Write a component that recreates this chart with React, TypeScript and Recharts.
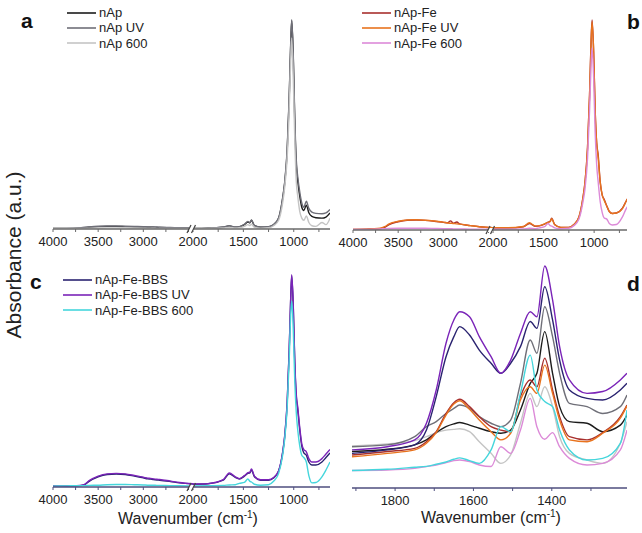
import React from "react";
import { Line, LineChart, XAxis, YAxis } from "recharts";

const FONT = "'Liberation Sans', Arial, Helvetica, sans-serif";

// wavenumber grids (cm-1)
const wnHigh = [4000, 3850, 3700, 3650, 3600, 3500, 3400, 3300, 3200, 3100, 3000, 2950, 2920, 2890, 2850, 2820, 2700, 2600, 2450];
const wnLow = [2000, 1850, 1700, 1640, 1580, 1540, 1490, 1455, 1435, 1420, 1390, 1330, 1250, 1200, 1150, 1110, 1090, 1065, 1045, 1030, 1020, 1005, 990, 975, 960, 940, 920, 900, 875, 850, 820, 780, 720, 680, 640];
const wnZoom = [1910, 1820, 1750, 1720, 1695, 1670, 1650, 1635, 1610, 1585, 1555, 1530, 1505, 1480, 1455, 1438, 1418, 1398, 1380, 1355, 1310, 1270, 1225, 1208];

// tick values
const highTicks = [4000, 3750, 3500, 3250, 3000, 2750, 2500];
const highLabels = [4000, 3500, 3000];
const lowTicks = [2000, 1750, 1500, 1250, 1000, 750];
const lowLabels = [2000, 1500, 1000];
const zoomTicks = [1900, 1800, 1700, 1600, 1500, 1400, 1300];
const zoomLabels = [1800, 1600, 1400];

// absorbance (a.u.), panel a
const nApHigh = [0.003, 0.003, 0.004, 0.006, 0.008, 0.011, 0.012, 0.012, 0.011, 0.01, 0.009, 0.008, 0.008, 0.008, 0.007, 0.007, 0.006, 0.005, 0.004];
const nApUvHigh = [0.003, 0.003, 0.005, 0.008, 0.01, 0.013, 0.014, 0.014, 0.013, 0.012, 0.011, 0.01, 0.01, 0.009, 0.009, 0.008, 0.007, 0.006, 0.005];
const nAp600High = [0.002, 0.002, 0.003, 0.003, 0.004, 0.004, 0.005, 0.005, 0.005, 0.004, 0.004, 0.004, 0.004, 0.004, 0.003, 0.003, 0.003, 0.003, 0.003];
const nApLow = [0.003, 0.004, 0.008, 0.014, 0.008, 0.01, 0.02, 0.032, 0.028, 0.04, 0.015, 0.008, 0.01, 0.02, 0.05, 0.14, 0.21, 0.36, 0.6, 0.85, 0.96, 0.8, 0.5, 0.3, 0.22, 0.15, 0.1, 0.085, 0.11, 0.075, 0.058, 0.052, 0.05, 0.055, 0.074];
const nApUvLow = [0.003, 0.004, 0.009, 0.015, 0.009, 0.011, 0.022, 0.035, 0.03, 0.042, 0.016, 0.009, 0.011, 0.021, 0.052, 0.145, 0.215, 0.37, 0.61, 0.86, 0.965, 0.81, 0.52, 0.32, 0.24, 0.17, 0.12, 0.1, 0.128, 0.095, 0.078, 0.072, 0.07, 0.074, 0.09];
const nAp600Low = [0.002, 0.003, 0.005, 0.008, 0.005, 0.006, 0.012, 0.02, 0.016, 0.022, 0.008, 0.004, 0.006, 0.015, 0.04, 0.12, 0.19, 0.33, 0.55, 0.78, 0.88, 0.7, 0.42, 0.22, 0.15, 0.08, 0.05, 0.04, 0.06, 0.03, 0.015, 0.012, 0.03, 0.02, 0.05];

// panel b
const feHigh = [0.003, 0.004, 0.006, 0.012, 0.025, 0.038, 0.045, 0.046, 0.044, 0.04, 0.035, 0.033, 0.042, 0.031, 0.037, 0.028, 0.02, 0.015, 0.011];
const feUvHigh = [0.003, 0.004, 0.008, 0.015, 0.028, 0.04, 0.046, 0.047, 0.045, 0.041, 0.036, 0.032, 0.031, 0.03, 0.028, 0.027, 0.02, 0.015, 0.011];
const fe600High = [0.002, 0.003, 0.005, 0.006, 0.007, 0.008, 0.008, 0.008, 0.008, 0.007, 0.006, 0.006, 0.006, 0.005, 0.005, 0.005, 0.004, 0.004, 0.004];
const feLow = [0.009, 0.009, 0.015, 0.03, 0.017, 0.019, 0.027, 0.036, 0.04, 0.054, 0.025, 0.012, 0.012, 0.025, 0.06, 0.15, 0.22, 0.38, 0.62, 0.87, 0.963, 0.82, 0.55, 0.4, 0.345, 0.22, 0.16, 0.14, 0.11, 0.085, 0.076, 0.078, 0.1, 0.135, 0.16];
const feUvLow = [0.01, 0.01, 0.016, 0.033, 0.018, 0.02, 0.028, 0.035, 0.038, 0.052, 0.024, 0.012, 0.012, 0.025, 0.06, 0.15, 0.22, 0.38, 0.62, 0.86, 0.955, 0.82, 0.55, 0.4, 0.33, 0.22, 0.16, 0.135, 0.11, 0.085, 0.076, 0.078, 0.098, 0.135, 0.16];
const fe600Low = [0.004, 0.004, 0.005, 0.008, 0.006, 0.01, 0.015, 0.03, 0.02, 0.018, 0.01, 0.006, 0.008, 0.02, 0.05, 0.13, 0.19, 0.33, 0.55, 0.76, 0.835, 0.7, 0.45, 0.3, 0.22, 0.13, 0.08, 0.055, 0.05, 0.03, 0.023, 0.025, 0.06, 0.1, 0.12];

// panel c
const bbsHigh = [0.004, 0.004, 0.006, 0.01, 0.025, 0.045, 0.055, 0.057, 0.055, 0.048, 0.04, 0.036, 0.035, 0.033, 0.031, 0.03, 0.024, 0.018, 0.013];
const bbsUvHigh = [0.004, 0.004, 0.007, 0.012, 0.028, 0.048, 0.058, 0.06, 0.058, 0.051, 0.043, 0.039, 0.038, 0.036, 0.034, 0.033, 0.026, 0.02, 0.014];
const bbs600High = [0.004, 0.005, 0.006, 0.006, 0.007, 0.008, 0.01, 0.011, 0.011, 0.01, 0.009, 0.008, 0.008, 0.008, 0.007, 0.007, 0.006, 0.006, 0.005];
const bbsLow = [0.012, 0.014, 0.03, 0.058, 0.042, 0.035, 0.048, 0.06, 0.062, 0.075, 0.045, 0.03, 0.03, 0.04, 0.07, 0.15, 0.22, 0.37, 0.6, 0.83, 0.93, 0.8, 0.55, 0.4, 0.34, 0.25, 0.18, 0.15, 0.14, 0.11, 0.097, 0.097, 0.11, 0.13, 0.15];
const bbsUvLow = [0.013, 0.015, 0.032, 0.062, 0.045, 0.037, 0.05, 0.063, 0.065, 0.08, 0.048, 0.032, 0.032, 0.042, 0.072, 0.155, 0.225, 0.375, 0.605, 0.835, 0.935, 0.805, 0.56, 0.41, 0.35, 0.26, 0.19, 0.165, 0.155, 0.125, 0.11, 0.11, 0.125, 0.145, 0.165];
const bbs600Low = [0.005, 0.006, 0.007, 0.009, 0.01, 0.016, 0.02, 0.035, 0.025, 0.022, 0.012, 0.008, 0.01, 0.025, 0.06, 0.14, 0.21, 0.35, 0.56, 0.76, 0.82, 0.7, 0.47, 0.33, 0.25, 0.18, 0.14, 0.13, 0.11, 0.05, 0.018, 0.02, 0.045, 0.075, 0.11];

// panel d (1910-1208 cm-1)
const nApZoom = [0.16, 0.17, 0.189, 0.211, 0.243, 0.269, 0.281, 0.287, 0.276, 0.262, 0.247, 0.24, 0.254, 0.342, 0.459, 0.503, 0.686, 0.503, 0.357, 0.291, 0.284, 0.247, 0.276, 0.32];
const nApUvZoom = [0.181, 0.189, 0.225, 0.269, 0.291, 0.327, 0.349, 0.364, 0.349, 0.313, 0.284, 0.269, 0.298, 0.459, 0.649, 0.591, 0.795, 0.664, 0.503, 0.371, 0.357, 0.327, 0.357, 0.408];
const nAp600Zoom = [0.184, 0.193, 0.208, 0.225, 0.243, 0.254, 0.257, 0.26, 0.247, 0.203, 0.152, 0.108, 0.145, 0.284, 0.415, 0.357, 0.444, 0.357, 0.225, 0.152, 0.123, 0.108, 0.196, 0.291];
const feZoom = [0.145, 0.16, 0.174, 0.203, 0.247, 0.327, 0.374, 0.389, 0.357, 0.313, 0.269, 0.254, 0.247, 0.401, 0.474, 0.444, 0.569, 0.43, 0.313, 0.225, 0.211, 0.243, 0.313, 0.364];
const feUvZoom = [0.137, 0.152, 0.167, 0.196, 0.243, 0.32, 0.368, 0.383, 0.345, 0.298, 0.247, 0.211, 0.24, 0.386, 0.444, 0.415, 0.539, 0.415, 0.298, 0.211, 0.203, 0.24, 0.306, 0.36];
const fe600Zoom = [0.077, 0.079, 0.086, 0.094, 0.101, 0.111, 0.12, 0.123, 0.116, 0.101, 0.094, 0.181, 0.152, 0.254, 0.393, 0.269, 0.214, 0.243, 0.181, 0.13, 0.101, 0.108, 0.167, 0.254];
const bbsZoom = [0.152, 0.167, 0.189, 0.254, 0.401, 0.576, 0.664, 0.708, 0.671, 0.605, 0.547, 0.503, 0.547, 0.62, 0.73, 0.7, 0.883, 0.737, 0.561, 0.43, 0.393, 0.386, 0.43, 0.459];
const bbsUvZoom = [0.167, 0.181, 0.211, 0.284, 0.43, 0.635, 0.737, 0.773, 0.751, 0.664, 0.576, 0.503, 0.561, 0.678, 0.773, 0.751, 0.974, 0.825, 0.62, 0.474, 0.415, 0.423, 0.474, 0.503];
const bbs600Zoom = [0.077, 0.082, 0.091, 0.095, 0.104, 0.114, 0.126, 0.132, 0.12, 0.108, 0.167, 0.269, 0.247, 0.415, 0.583, 0.43, 0.379, 0.357, 0.254, 0.167, 0.123, 0.13, 0.196, 0.342];

const COLORS = {
  nAp: "#1c1c1c",
  nApUv: "#6f6f78",
  nAp600: "#c4c4c4",
  fe: "#a8302e",
  feUv: "#e8731e",
  fe600: "#dc8ad8",
  bbs: "#2a2370",
  bbsUv: "#7a24b8",
  bbs600: "#45d6dc",
};

type Series = { name: string; color: string; values: number[] };

function makeRows(wn: number[], series: Series[]) {
  return wn.map((w, i) => {
    const row: Record<string, number> = { w };
    series.forEach((s, j) => {
      row["s" + j] = s.values[i];
    });
    return row;
  });
}

function renderTick(props: any, labels: number[]) {
  const { x, y, payload } = props;
  if (!labels.includes(payload.value)) return <g />;
  return (
    <text x={x} y={y} dy={12} textAnchor="middle" fontSize={13} fill="#222" fontFamily={FONT}>
      {payload.value}
    </text>
  );
}

interface SpectrumProps {
  left: number;
  top: number;
  plotW: number;
  plotH: number;
  ml: number;
  mr: number;
  wn: number[];
  series: Series[];
  domain: [number, number];
  ticks: number[];
  labels: number[];
  showY: boolean;
  axisColor: string;
}

function Spectrum({ left, top, plotW, plotH, ml, mr, wn, series, domain, ticks, labels, showY, axisColor }: SpectrumProps) {
  const rows = makeRows(wn, series);
  return (
    <div style={{ position: "absolute", left, top }}>
      <LineChart width={ml + plotW + mr} height={10 + plotH + 30} data={rows} margin={{ top: 10, left: ml, right: mr, bottom: 0 }}>
        <XAxis
          dataKey="w"
          type="number"
          domain={domain}
          reversed
          allowDataOverflow
          ticks={ticks}
          interval={0}
          height={30}
          tickSize={3}
          tickLine={{ stroke: axisColor }}
          axisLine={{ stroke: axisColor, strokeWidth: 1.3 }}
          tick={(p: any) => renderTick(p, labels)}
        />
        <YAxis
          domain={[0, 1]}
          hide={!showY}
          width={0}
          tick={false}
          tickLine={false}
          axisLine={{ stroke: axisColor, strokeWidth: 1.3 }}
          allowDataOverflow
        />
        {series.map((s, j) => (
          <Line
            key={s.name}
            dataKey={"s" + j}
            stroke={s.color}
            strokeWidth={1.4}
            dot={false}
            type="monotone"
            isAnimationActive={false}
          />
        ))}
      </LineChart>
    </div>
  );
}

function Legend({ x, y, items }: { x: number; y: number; items: Series[] }) {
  return (
    <div style={{ position: "absolute", left: x, top: y, fontFamily: FONT, fontSize: 13, color: "#222" }}>
      {items.map((s) => (
        <div key={s.name} style={{ display: "flex", alignItems: "center", height: 15.3 }}>
          <svg width={29} height={4} style={{ marginRight: 3 }}>
            <line x1={0} y1={2} x2={29} y2={2} stroke={s.color} strokeWidth={1.6} />
          </svg>
          <span style={{ lineHeight: "15px" }}>{s.name}</span>
        </div>
      ))}
    </div>
  );
}

function BreakMark({ x, y }: { x: number; y: number }) {
  return (
    <svg style={{ position: "absolute", left: x - 8, top: y - 6 }} width={16} height={12}>
      <rect x={5} y={4} width={5} height={4} fill="#fff" />
      <line x1={3} y1={10} x2={7} y2={2} stroke="#444" strokeWidth={1.2} />
      <line x1={7.5} y1={10} x2={11.5} y2={2} stroke="#444" strokeWidth={1.2} />
    </svg>
  );
}

const letterStyle: React.CSSProperties = {
  position: "absolute",
  fontFamily: FONT,
  fontWeight: "bold",
  fontSize: 21,
  color: "#111",
  lineHeight: "21px",
};

const titleStyle: React.CSSProperties = {
  position: "absolute",
  width: 200,
  height: 16,
  lineHeight: "16px",
  textAlign: "center",
  fontFamily: FONT,
  fontSize: 16,
  color: "#222",
  whiteSpace: "nowrap",
};

const supStyle: React.CSSProperties = { fontSize: 10, lineHeight: 0, verticalAlign: "6px" };

export default function App() {
  const aHigh: Series[] = [
    { name: "nAp", color: COLORS.nAp, values: nApHigh },
    { name: "nAp UV", color: COLORS.nApUv, values: nApUvHigh },
    { name: "nAp 600", color: COLORS.nAp600, values: nAp600High },
  ];
  const aLow: Series[] = [
    { name: "nAp", color: COLORS.nAp, values: nApLow },
    { name: "nAp UV", color: COLORS.nApUv, values: nApUvLow },
    { name: "nAp 600", color: COLORS.nAp600, values: nAp600Low },
  ];
  const bHigh: Series[] = [
    { name: "nAp-Fe", color: COLORS.fe, values: feHigh },
    { name: "nAp-Fe UV", color: COLORS.feUv, values: feUvHigh },
    { name: "nAp-Fe 600", color: COLORS.fe600, values: fe600High },
  ];
  const bLow: Series[] = [
    { name: "nAp-Fe", color: COLORS.fe, values: feLow },
    { name: "nAp-Fe UV", color: COLORS.feUv, values: feUvLow },
    { name: "nAp-Fe 600", color: COLORS.fe600, values: fe600Low },
  ];
  const cHigh: Series[] = [
    { name: "nAp-Fe-BBS", color: COLORS.bbs, values: bbsHigh },
    { name: "nAp-Fe-BBS UV", color: COLORS.bbsUv, values: bbsUvHigh },
    { name: "nAp-Fe-BBS 600", color: COLORS.bbs600, values: bbs600High },
  ];
  const cLow: Series[] = [
    { name: "nAp-Fe-BBS", color: COLORS.bbs, values: bbsLow },
    { name: "nAp-Fe-BBS UV", color: COLORS.bbsUv, values: bbsUvLow },
    { name: "nAp-Fe-BBS 600", color: COLORS.bbs600, values: bbs600Low },
  ];
  const dSeries: Series[] = [
    { name: "nAp 600", color: COLORS.nAp600, values: nAp600Zoom },
    { name: "nAp UV", color: COLORS.nApUv, values: nApUvZoom },
    { name: "nAp", color: COLORS.nAp, values: nApZoom },
    { name: "nAp-Fe 600", color: COLORS.fe600, values: fe600Zoom },
    { name: "nAp-Fe", color: COLORS.fe, values: feZoom },
    { name: "nAp-Fe UV", color: COLORS.feUv, values: feUvZoom },
    { name: "nAp-Fe-BBS 600", color: COLORS.bbs600, values: bbs600Zoom },
    { name: "nAp-Fe-BBS", color: COLORS.bbs, values: bbsZoom },
    { name: "nAp-Fe-BBS UV", color: COLORS.bbsUv, values: bbsUvZoom },
  ];

  const grayAxis = "#6a6a6a";
  const blueAxis = "#4e4e7e";

  return (
    <div style={{ position: "absolute", left: 0, top: 0, width: 642, height: 533, background: "#fff", overflow: "hidden" }}>
      {/* panel a */}
      <Spectrum left={33} top={2} plotW={140} plotH={217} ml={20} mr={0} wn={wnHigh} series={aHigh} domain={[2450, 4000]} ticks={highTicks} labels={highLabels} showY axisColor={grayAxis} />
      <Spectrum left={173} top={2} plotW={137} plotH={217} ml={20} mr={20} wn={wnLow} series={aLow} domain={[640, 2000]} ticks={lowTicks} labels={lowLabels} showY={false} axisColor={grayAxis} />
      <BreakMark x={192} y={229} />
      <Legend x={67} y={5} items={aLow} />
      <div style={{ ...letterStyle, left: 21, top: 10 }}>a</div>

      {/* panel b */}
      <Spectrum left={333} top={2} plotW={140} plotH={218} ml={20} mr={0} wn={wnHigh} series={bHigh} domain={[2450, 4000]} ticks={highTicks} labels={highLabels} showY axisColor={grayAxis} />
      <Spectrum left={473} top={2} plotW={134} plotH={218} ml={20} mr={20} wn={wnLow} series={bLow} domain={[675, 2000]} ticks={lowTicks} labels={lowLabels} showY={false} axisColor={grayAxis} />
      <BreakMark x={491} y={230} />
      <Legend x={362} y={5} items={bLow} />
      <div style={{ ...letterStyle, left: 627, top: 11 }}>b</div>

      {/* panel c */}
      <Spectrum left={33} top={250} plotW={140} plotH={227} ml={20} mr={0} wn={wnHigh} series={cHigh} domain={[2450, 4000]} ticks={highTicks} labels={highLabels} showY axisColor={blueAxis} />
      <Spectrum left={173} top={250} plotW={137} plotH={227} ml={20} mr={20} wn={wnLow} series={cLow} domain={[640, 2000]} ticks={lowTicks} labels={lowLabels} showY={false} axisColor={blueAxis} />
      <BreakMark x={192} y={487} />
      <Legend x={63} y={272} items={cLow} />
      <div style={{ ...letterStyle, left: 30, top: 271 }}>c</div>

      {/* panel d */}
      <Spectrum left={332} top={250} plotW={275} plotH={228} ml={20} mr={15} wn={wnZoom} series={dSeries} domain={[1208, 1910]} ticks={zoomTicks} labels={zoomLabels} showY axisColor={blueAxis} />
      <div style={{ ...letterStyle, left: 627, top: 273 }}>d</div>

      {/* axis titles */}
      <div
        style={{
          position: "absolute",
          left: 14 - 110,
          top: 255 - 13,
          width: 220,
          height: 26,
          lineHeight: "26px",
          textAlign: "center",
          transform: "rotate(-90deg)",
          fontFamily: FONT,
          fontSize: 21,
          color: "#222",
        }}
      >
        Absorbance (a.u.)
      </div>
      <div style={{ ...titleStyle, left: 188 - 100, top: 511 }}>
        Wavenumber (cm<span style={supStyle}>-1</span>)
      </div>
      <div style={{ ...titleStyle, left: 491 - 100, top: 510 }}>
        Wavenumber (cm<span style={supStyle}>-1</span>)
      </div>
    </div>
  );
}
